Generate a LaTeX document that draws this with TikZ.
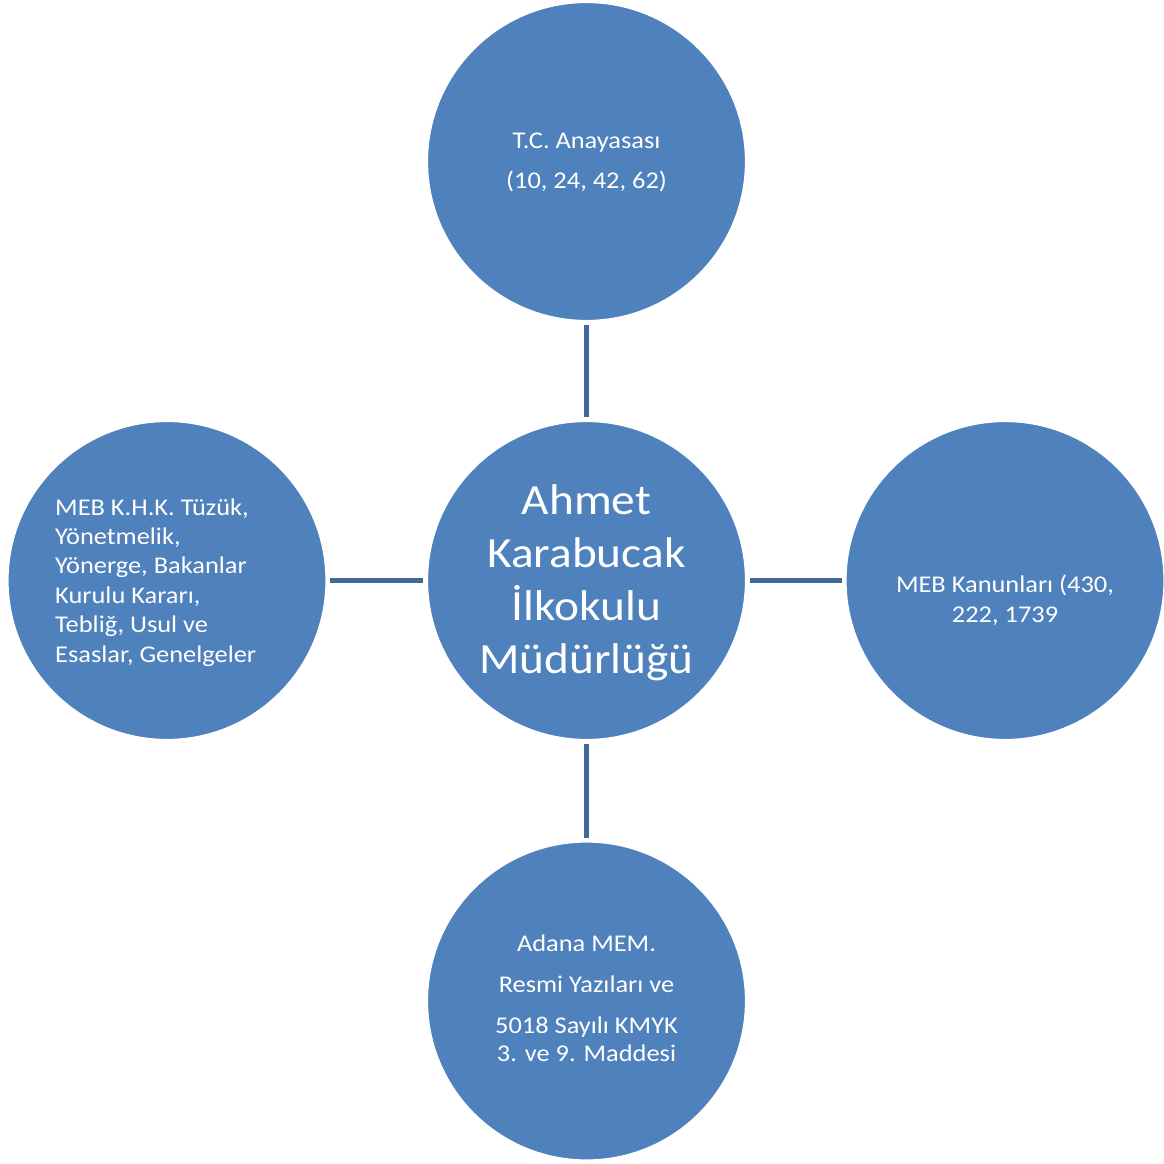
\documentclass[tikz,border=0pt]{standalone}
\usepackage{fontspec}
\setmainfont{Carlito}[FakeStretch=1.1]
\definecolor{circfill}{RGB}{79,129,189}
\definecolor{linkcol}{RGB}{65,104,153}
\begin{document}
\begin{tikzpicture}[x=1pt,y=-1pt,
  bubble/.style={circle,fill=circfill,draw=white,line width=1.2pt,minimum size=318pt,inner sep=0pt},
  smalltxt/.style={text=white,font=\fontsize{24}{29.4}\selectfont,inner sep=0pt,anchor=base},
  bigtxt/.style={text=white,font=\fontsize{43}{52.7}\selectfont,inner sep=0pt,anchor=base},
  link/.style={draw=linkcol,line width=5pt,shorten <=3.5pt,shorten >=3.5pt}]
\useasboundingbox (0,0) rectangle (1164,1164);
\node[bubble] (c) at (586.5,580.5) {};
\node[bubble] (t) at (586.5,161.5) {};
\node[bubble] (b) at (586.5,1001) {};
\node[bubble] (l) at (167,580.5) {};
\node[bubble] (r) at (1005,580.5) {};
\draw[link] (t.south) -- (c.north);
\draw[link] (c.south) -- (b.north);
\draw[link] (l.east) -- (c.west);
\draw[link] (c.east) -- (r.west);
\node[bigtxt,align=center] (ct) at (586.5,673) {Ahmet\\Karabucak\\İlkokulu\\Müdürlüğü};
\node[smalltxt,align=center] (tt) at (586.5,188) {T.C. Anayasası\\[10.6pt](10, 24, 42, 62)};
\node[smalltxt,align=center] (rt) at (1005,622) {MEB Kanunları (430,\\222, 1739};
\node[smalltxt,align=center] (bt) at (586.5,1061) {Adana MEM.\\[11.6pt]Resmi Yazıları ve\\[11.1pt]5018 Sayılı KMYK\\[-1.7pt]3. ve 9. Maddesi};
\node[smalltxt,align=left,anchor=base west] (lt) at (55,662) {MEB K.H.K. Tüzük,\\Yönetmelik,\\Yönerge, Bakanlar\\Kurulu Kararı,\\Tebliğ, Usul ve\\Esaslar, Genelgeler};
\end{tikzpicture}
\end{document}
